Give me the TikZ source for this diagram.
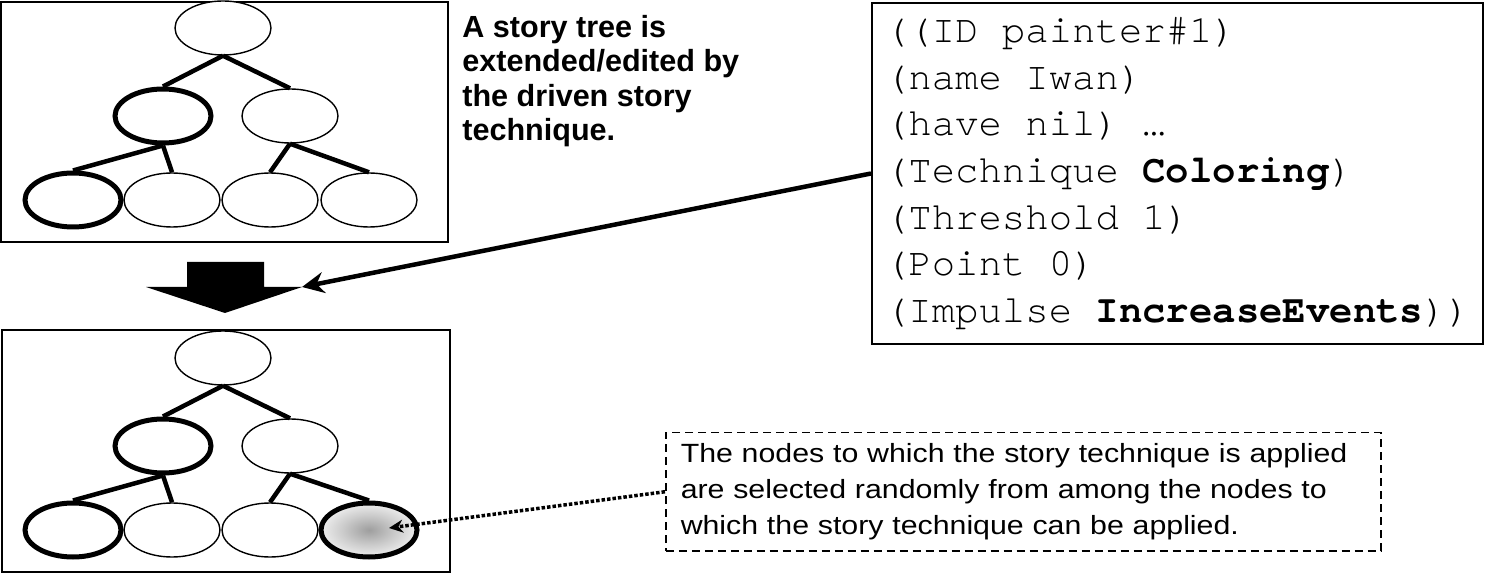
\documentclass[tikz,border=0pt]{standalone}
\usepackage{fontspec}
\setmainfont{Liberation Sans}
\newfontfamily\codefont{texgyrecursor}[Extension=.otf, UprightFont=*-regular, BoldFont=*-bold]
\newfontfamily\notefont[FakeStretch=1.15]{Liberation Sans}
\usetikzlibrary{shapes.geometric,arrows.meta}
\pgfdeclareradialshading{glow}{\pgfpoint{0bp}{0bp}}{color(0bp)=(black!38); color(14bp)=(black!20); color(25bp)=(black!7); color(50bp)=(black!7)}

\begin{document}
\begin{tikzpicture}[x=0.02cm,y=-0.02cm]
    \newdimen\pix
    \pix = 0.02cm
    \tikzset{
      vert/.style={ellipse, draw, fill=white, line width=1.4\pix, minimum width=96\pix, minimum height=54\pix, inner sep=0pt},
      hot/.style={line width=5\pix},
      picked/.style={shading=glow},
      branch/.style={line width=4.5\pix},
      frame/.style={draw, line width=2\pix, inner sep=0pt}
    }
    \useasboundingbox (0,0) rectangle (1486,573);
    \node[frame, minimum width=447\pix, minimum height=240\pix] (upper) at (224.5,122) {};
    \node[frame, minimum width=448\pix, minimum height=242\pix] (lower) at (226,451) {};
    % two trees, the lower one after the technique
    \foreach \t/\dy in {a/0,b/330} {
      \foreach \n/\x/\y/\w in {0/223/28/1.4, 1/163/116/5, 2/290/116/1.4, 3/73/200/5, 4/172/200/1.4, 5/270/200/1.4}
        \node[vert, line width=\w\pix] (\t\n) at (\x,\y+\dy) {};
    }
    \node[vert] (a6) at (369,200) {};
    \node[vert, hot, picked] (b6) at (369,530) {};
    \foreach \t in {a,b} {
      \foreach \p/\c in {0/1,0/2,1/3,1/4,2/5,2/6}
        \draw[branch] (\t\p.south) -- (\t\c.north);
    }
    % big arrow down
    \fill (187,262) -- (264,262) -- (264,287) -- (302,287) -- (225,313) -- (146,287) -- (187,287) -- cycle;
    \coordinate (head) at (302,287);
    \node[anchor=north west, inner sep=0pt, align=left, font=\bfseries\fontsize{17.4pt}{19.6pt}\selectfont] (caption) at (462,15)
      {A story tree is\\extended/edited by\\the driven story\\technique.};
    \node[frame, anchor=north west, minimum width=611\pix, minimum height=341\pix, align=left,
          font=\codefont\fontsize{22.2pt}{26.6pt}\selectfont] (code) at (871,2)
      {((ID painter\#1)\\(name Iwan)\\(have nil) …\\(Technique \textbf{Coloring})\\(Threshold 1)\\(Point 0)\\(Impulse \textbf{IncreaseEvents}))};
    \draw[line width=4.5\pix, -{Stealth[length=0.44cm, width=0.42cm]}] (code.west) -- (head);
    \node[draw, line width=1.5\pix, dash pattern=on 0.16cm off 0.1cm, anchor=north west, minimum width=715\pix, minimum height=118\pix,
          text width=685\pix, inner xsep=15\pix, inner ysep=0pt, align=left,
          font=\notefont\fontsize{15pt}{20.4pt}\selectfont] (note) at (665,432)
      {The nodes to which the story technique is applied\\are selected randomly from among the nodes to\\which the story technique can be applied.};
    \coordinate (hit) at (389,528);
    \draw[line width=3.5\pix, dash pattern=on 0.07cm off 0.04cm, -{Stealth[length=0.28cm, width=0.26cm]}] (note.west) -- (hit);
\end{tikzpicture}
\end{document}
